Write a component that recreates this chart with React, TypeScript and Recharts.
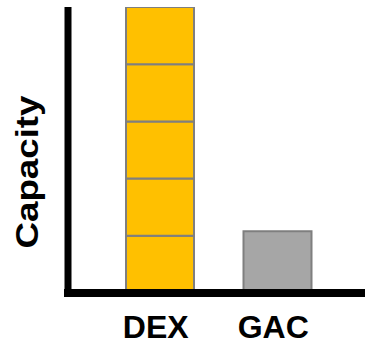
import { BarChart, Bar, XAxis, YAxis } from 'recharts';

const CATEGORIES = ['DEX', 'GAC'];
// DEX is drawn as five stacked unit blocks
const DEX_BLOCKS = [1, 1, 1, 1, 1];
const GAC_VALUE = [0, 1.08];
const Y_DOMAIN: [number, number] = [0, 5];

const BLOCK_KEYS = DEX_BLOCKS.map((_, i) => `dex${i + 1}`);

const data = CATEGORIES.map((name, ci) => {
  const row: Record<string, string | number> = { name, gac: GAC_VALUE[ci] };
  BLOCK_KEYS.forEach((k, i) => {
    row[k] = ci === 0 ? DEX_BLOCKS[i] : 0;
  });
  return row;
});

const FONT = '"Liberation Sans", Arial, sans-serif';

function YLabel(props: any) {
  const vb = props.viewBox || { x: 0, y: 7, width: 68, height: 286 };
  const x = vb.x + 38;
  const y = vb.y + vb.height / 2 + 22;
  return (
    <text
      x={x}
      y={y}
      transform={`rotate(-90 ${x} ${y})`}
      textAnchor="middle"
      fontFamily={FONT}
      fontWeight="bold"
      fontSize={32}
      textLength={153}
      lengthAdjust="spacingAndGlyphs"
      fill="#000"
    >
      Capacity
    </text>
  );
}

export default function App() {
  return (
    <div style={{ position: 'absolute', left: 0, top: 0 }}>
      <BarChart
        width={365}
        height={345}
        data={data}
        margin={{ top: 7, right: 0, bottom: 0, left: 0 }}
        barSize={68}
      >
        <XAxis
          dataKey="name"
          height={52}
          padding={{ left: 33, right: 29 }}
          axisLine={{ stroke: '#000', strokeWidth: 8, strokeLinecap: 'square' }}
          tickLine={false}
          tickSize={0}
          tickMargin={22}
          tick={{ fontSize: 32, fontWeight: 'bold', fill: '#000', fontFamily: FONT, dx: -4 }}
        />
        <YAxis
          width={68}
          domain={Y_DOMAIN}
          allowDataOverflow
          tick={false}
          tickLine={false}
          axisLine={{ stroke: '#000', strokeWidth: 7 }}
          label={{ content: YLabel }}
        />
        {BLOCK_KEYS.map((k) => (
          <Bar
            key={k}
            dataKey={k}
            stackId="a"
            fill="#FFC000"
            stroke="#7F7F7F"
            strokeWidth={2}
            isAnimationActive={false}
          />
        ))}
        <Bar
          dataKey="gac"
          stackId="a"
          fill="#A6A6A6"
          stroke="#7F7F7F"
          strokeWidth={2}
          isAnimationActive={false}
        />
      </BarChart>
    </div>
  );
}
